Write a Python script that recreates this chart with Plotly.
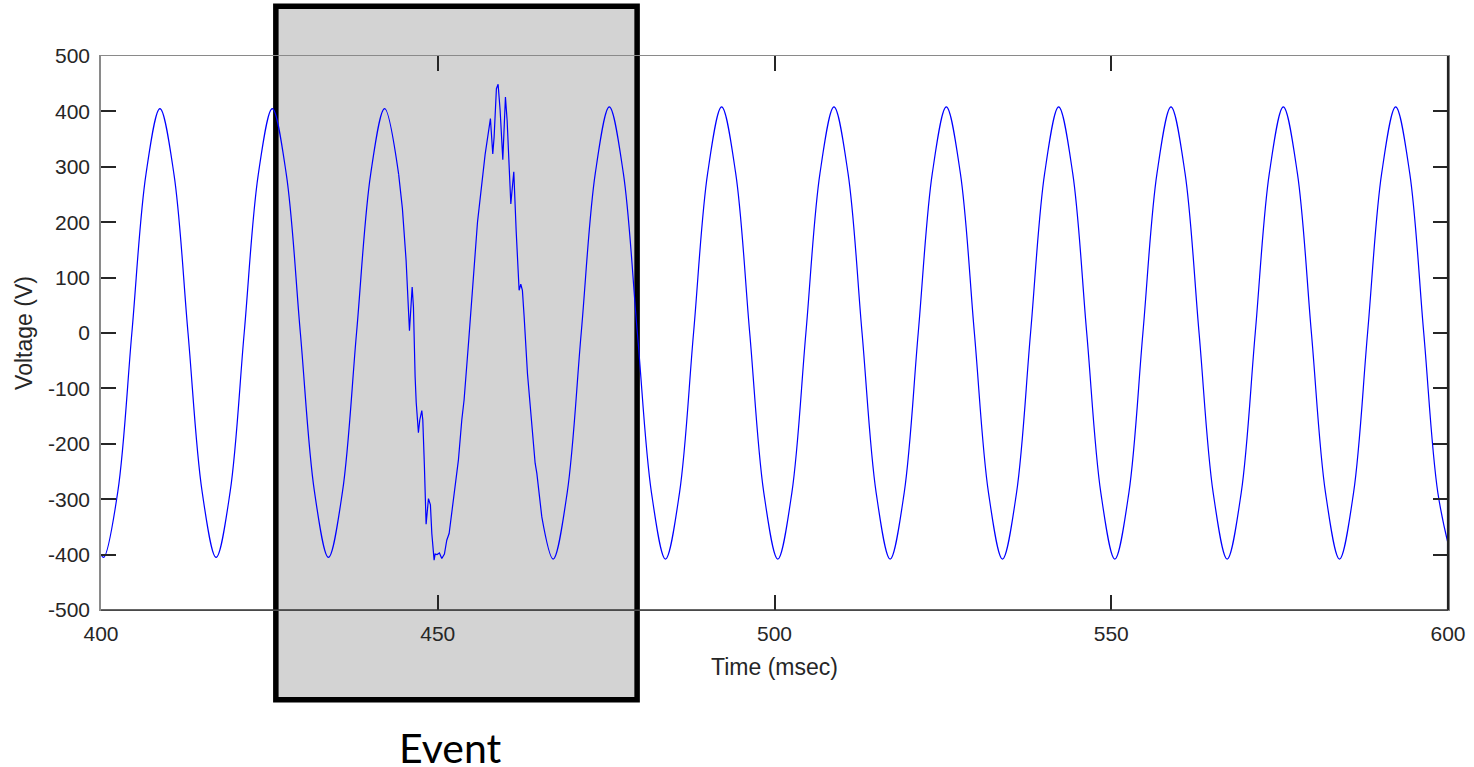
import plotly.graph_objects as go

# ---- data ----
# steady waveform before the event (ms, V)
time_pre = [400.00, 400.41, 402.50, 404.58, 406.67, 408.75, 410.84, 412.92, 415.01, 417.09,
            419.18, 421.26, 423.35, 425.43, 427.52, 429.60, 431.69, 433.77, 435.86, 437.94,
            440.03, 442.11, 444.20]
volt_pre = [-400, -405, -286, 0, 286, 405, 286, 0, -286, -405,
            -286, 0, 286, 405, 286, 0, -286, -405, -286, 0,
            286, 405, 286]

# disturbed waveform during the event
time_evt = [444.20, 444.75, 445.30, 445.80, 446.20, 446.39, 446.64, 446.80, 447.13, 447.33,
            447.63, 447.78, 448.02, 448.27, 448.62, 448.91, 449.12, 449.46, 449.61, 449.90,
            450.25, 450.60, 450.99, 451.34, 451.69, 452.33, 453.07, 453.57, 453.91, 454.60,
            455.90, 457.03, 457.82, 458.17, 458.37, 458.71, 458.96, 459.26, 459.66, 460.05,
            460.30, 460.85, 461.29, 461.64, 462.08, 462.33, 462.57, 462.83, 463.07, 463.32,
            464.46, 464.71, 465.45]
volt_evt = [286, 225, 131, 4, 83, 47, -79, -125, -180, -157,
            -140, -157, -241, -345, -299, -310, -362, -410, -399, -400,
            -397, -407, -399, -374, -362, -301, -229, -157, -121, -13,
            200, 322, 387, 323, 354, 441, 449, 402, 313, 426,
            384, 233, 291, 185, 77, 88, 77, 29, -31, -73,
            -235, -253, -332]

# steady waveform after the event
time_post = [465.45, 467.13, 469.22, 471.30, 473.39, 475.47, 477.56, 479.64, 481.73, 483.81,
             485.90, 487.98, 490.07, 492.15, 494.24, 496.32, 498.41, 500.49, 502.58, 504.66,
             506.75, 508.83, 510.92, 513.00, 515.09, 517.17, 519.26, 521.34, 523.43, 525.51,
             527.60, 529.68, 531.77, 533.85, 535.94, 538.02, 540.11, 542.19, 544.28, 546.36,
             548.45, 550.53, 552.62, 554.70, 556.79, 558.87, 560.96, 563.04, 565.13, 567.21,
             569.30, 571.38, 573.47, 575.55, 577.64, 579.72, 581.81, 583.89, 585.98, 588.06,
             590.15, 592.23, 594.32, 596.40, 598.49, 600.57]
volt_post = [-332, -408, -288, 0, 288, 408, 288, 0, -288, -408,
             -288, 0, 288, 408, 288, 0, -288, -408, -288, 0,
             288, 408, 288, 0, -288, -408, -288, 0, 288, 408,
             288, 0, -288, -408, -288, 0, 288, 408, 288, 0,
             -288, -408, -288, 0, 288, 408, 288, 0, -288, -408,
             -288, 0, 288, 408, 288, 0, -288, -408, -288, 0,
             288, 408, 288, 0, -288, -408]

x_ticks = [400, 450, 500, 550, 600]
y_ticks = [-500, -400, -300, -200, -100, 0, 100, 200, 300, 400, 500]
y_tick_text = ["-500", "-400", "-300", "-200", "-100", "0", "100", "200", "300", "400", "500"]
x_title = "Time (msec)"
y_title = "Voltage (V)"
event_label = "Event"

# ---- figure ----
LINE = dict(color="#0000ff", width=1.2)
fig = go.Figure()
fig.add_trace(go.Scatter(x=time_pre, y=volt_pre, mode="lines",
                         line=dict(shape="spline", smoothing=1, **LINE), showlegend=False))
fig.add_trace(go.Scatter(x=time_evt, y=volt_evt, mode="lines",
                         line=dict(shape="linear", **LINE), showlegend=False))
fig.add_trace(go.Scatter(x=time_post, y=volt_post, mode="lines",
                         line=dict(shape="spline", smoothing=1, **LINE), showlegend=False))

tickfont = dict(family="Liberation Sans, Arial, sans-serif", size=21, color="#262626")
titlefont = dict(family="Liberation Sans, Arial, sans-serif", size=23, color="#262626")

fig.update_xaxes(range=[400, 600], tickvals=x_ticks, ticktext=[str(v) for v in x_ticks],
                 showgrid=False, zeroline=False, showline=True, linecolor="#8a8a8a", linewidth=1.2,
                 mirror="ticks", ticks="inside", ticklen=15, tickwidth=1.6, tickcolor="#262626",
                 tickfont=tickfont, ticklabelstandoff=5, automargin=False,
                 title=dict(text=x_title, font=titlefont, standoff=14))
fig.update_yaxes(range=[-500, 500], tickvals=y_ticks, ticktext=y_tick_text,
                 showgrid=False, zeroline=False, showline=True, linecolor="#8a8a8a", linewidth=1.6,
                 mirror="ticks", ticks="inside", ticklen=15, tickwidth=1.6, tickcolor="#262626",
                 tickfont=tickfont, ticklabelstandoff=5, automargin=False,
                 title=dict(text=y_title, font=titlefont, standoff=9))

# event box (shaded, thick black border) spanning outside the plot area
fig.add_shape(type="rect", xref="paper", yref="paper", x0=0.1298, x1=0.398, y0=-0.1618, y1=1.090,
              fillcolor="#d3d3d3", line=dict(color="black", width=5.5), layer="below")
# darker right and bottom frame edges
fig.add_shape(type="line", xref="paper", yref="paper", x0=1, x1=1, y0=0, y1=1,
              line=dict(color="#222222", width=2.2))
fig.add_shape(type="line", xref="paper", yref="paper", x0=0, x1=1, y0=0, y1=0,
              line=dict(color="#333333", width=1.3))

fig.add_annotation(text=event_label, xref="paper", yref="paper", x=0.2596, y=-0.249,
                   xanchor="center", yanchor="middle", showarrow=False,
                   font=dict(family="Lato, Carlito, sans-serif", size=41, color="black"))

fig.update_layout(width=1474, height=767, margin=dict(l=101, r=26, t=56, b=157),
                  paper_bgcolor="white", plot_bgcolor="white")

# remove the default 8 px page margin so the figure fills the window exactly
fig.write_html("out.html", config={"displayModeBar": False},
               post_script="document.body.style.margin='0';document.body.style.overflow='hidden';")
